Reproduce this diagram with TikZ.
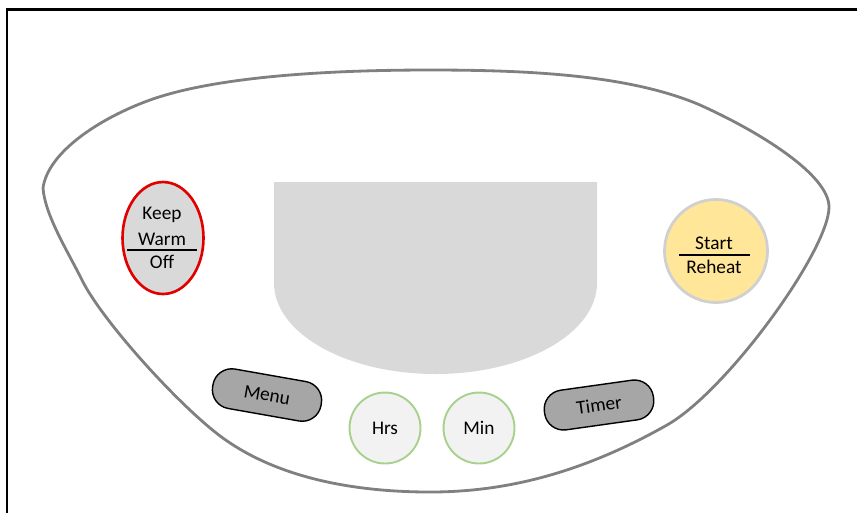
\documentclass[tikz,border=0pt]{standalone}
\usepackage{fontspec}
\setmainfont{Carlito}
\usetikzlibrary{shapes.geometric}
\definecolor{panelgray}{HTML}{808080}
\definecolor{screen}{HTML}{D9D9D9}
\definecolor{keyfill}{HTML}{A6A6A6}
\definecolor{startfill}{HTML}{FFE699}
\definecolor{startrim}{HTML}{D0D0D0}
\definecolor{timefill}{HTML}{F2F2F2}
\definecolor{timerim}{HTML}{A9D18E}
\definecolor{warmrim}{HTML}{E00000}
\tikzset{
  keyfont/.style={font=\fontsize{11}{13}\selectfont},
  lbl/.style={inner sep=0pt, keyfont},
  warmkey/.style={ellipse, draw=warmrim, line width=1.5pt, fill=screen,
    minimum width=1.62cm, minimum height=2.24cm, inner sep=0pt},
  startkey/.style={circle, draw=startrim, line width=1.6pt, fill=startfill,
    minimum size=2.06cm, inner sep=0pt},
  timekey/.style={circle, draw=timerim, line width=1.1pt, fill=timefill,
    minimum size=1.42cm, inner sep=0pt, keyfont},
  softkey/.style={rectangle, rounded corners=0.38cm, draw=black, line width=0.8pt,
    fill=keyfill, minimum width=2.2cm, minimum height=0.8cm, inner sep=0pt, keyfont},
  divider/.style={line width=1.4pt, black},
}
\begin{document}
\begin{tikzpicture}[x=0.02cm, y=-0.02cm]
\useasboundingbox (0,0) rectangle (857,512);
% frame edges
\draw[line width=1.7pt, line cap=butt] (7,514) -- (7,9) -- (859,9);
% control panel outline
\draw[panelgray, line width=1.6pt, line join=round]
  (43,188) .. controls (48,152) and (100,118) .. (150,100)
  .. controls (220,75) and (340,70) .. (430,70)
  .. controls (530,70) and (630,75) .. (700,105)
  .. controls (760,132) and (829,175) .. (829,207)
  .. controls (829,250) and (727,391) .. (667,425)
  .. controls (577,476) and (500,492) .. (430,492)
  .. controls (360,492) and (275,480) .. (215,432)
  .. controls (170,396) and (100,317) .. (82,280)
  .. controls (67,250) and (45,215) .. (43,188)
  -- cycle;
% display window
\fill[screen] (274,182) -- (597,182) -- (597,283)
  arc[start angle=0, end angle=180, x radius=161.5, y radius=91] -- cycle;
% keep warm / off key
\node[warmkey] (kw) at (163,238) {};
\node[lbl] (kwa) at (162,215) {Keep};
\node[lbl] (kwb) at (162,239) {Warm};
\node[lbl] (kwc) at (162,262) {Off};
\coordinate (kwl) at (127,250);
\coordinate (kwr) at (197,250);
\draw[divider] (kwl) -- (kwr);
% start / reheat key
\node[startkey] (st) at (716,251) {};
\node[lbl] (sta) at (714,243) {Start};
\node[lbl] (stb) at (714,267) {Reheat};
\coordinate (stl) at (679,255);
\coordinate (str) at (750,255);
\draw[divider] (stl) -- (str);
% soft keys
\node[softkey, rotate=-10] (menu) at (267,395) {Menu};
\node[softkey, rotate=8] (timer) at (599,405) {Timer};
% time setting keys
\node[timekey] (hrs) at (385,428) {Hrs};
\node[timekey] (min) at (479,428) {Min};
\end{tikzpicture}
\end{document}
